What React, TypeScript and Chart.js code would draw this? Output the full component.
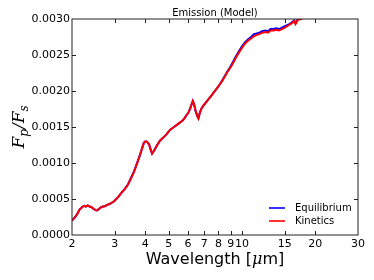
import React, { useEffect, useRef } from 'react';
import { Chart, registerables } from 'chart.js';
Chart.register(...registerables);

const wavelengths = [
  2.0, 2.05, 2.1, 2.15, 2.18, 2.2, 2.25, 2.28, 2.32, 2.36, 2.4, 2.45, 2.5, 2.53, 2.57, 2.62, 2.68, 2.73, 2.78, 2.85, 2.92, 2.97,
  3.0, 3.1, 3.2, 3.3, 3.4, 3.5, 3.6, 3.7, 3.8, 3.88, 3.95, 4.0, 4.05, 4.1, 4.15, 4.2, 4.27, 4.33, 4.4, 4.5, 4.6, 4.7, 4.8, 4.9,
  5.0, 5.1, 5.2, 5.3, 5.4, 5.5, 5.6, 5.7, 5.8, 5.9, 6.0, 6.1, 6.2, 6.28, 6.35, 6.45, 6.55, 6.62, 6.7, 6.8, 6.95, 7.1, 7.3, 7.5,
  7.7, 7.9, 8.1, 8.3, 8.5, 8.7, 8.9, 9.1, 9.4, 9.7, 10.0, 10.3, 10.6, 10.9, 11.2, 11.5, 11.8, 12.1, 12.5, 12.8, 13.1, 13.5,
  13.8, 14.2, 14.6, 15.0, 15.5, 16.0, 16.4, 16.6, 17.0, 17.5, 18.0,
];

const kinetics = [
  0.0002, 0.00024, 0.00029, 0.000355, 0.00037, 0.00039, 0.000405, 0.000395, 0.00041, 0.000395, 0.00039, 0.000365, 0.000345, 0.00034, 0.000355, 0.00038, 0.000395, 0.0004, 0.000415, 0.00043, 0.00045, 0.000465,
  0.00048, 0.00053, 0.00059, 0.00064, 0.0007, 0.00079, 0.00088, 0.00099, 0.0011, 0.0012, 0.00128, 0.0013, 0.0013, 0.00128, 0.00126, 0.0012, 0.00113, 0.00116, 0.0012, 0.00126, 0.00131, 0.00134, 0.00137, 0.0014,
  0.00144, 0.00147, 0.00149, 0.00151, 0.00153, 0.00155, 0.00157, 0.00159, 0.00162, 0.00166, 0.00169, 0.00174, 0.00181, 0.00186, 0.00182, 0.00172, 0.00165, 0.00162, 0.00169, 0.00175, 0.0018, 0.00184, 0.00189, 0.00194,
  0.00199, 0.00204, 0.00209, 0.00214, 0.0022, 0.00226, 0.00231, 0.00236, 0.00245, 0.00253, 0.0026, 0.00266, 0.0027, 0.00273, 0.00276, 0.00278, 0.00279, 0.00281, 0.00282, 0.00281, 0.00284, 0.00284,
  0.00285, 0.00284, 0.00286, 0.00288, 0.00291, 0.00294, 0.00297, 0.00293, 0.00299, 0.003, 0.00302,
];

const equilibrium = [
  0.0002, 0.00024, 0.00029, 0.000355, 0.00037, 0.00039, 0.000405, 0.000395, 0.00041, 0.000395, 0.00039, 0.000365, 0.000345, 0.00034, 0.000355, 0.00038, 0.000395, 0.0004, 0.000415, 0.00043, 0.00045, 0.000465,
  0.00048, 0.00053, 0.00059, 0.00064, 0.000705, 0.000795, 0.000885, 0.000995, 0.001105, 0.0012, 0.00128, 0.0013, 0.0013, 0.00128, 0.00126, 0.0012, 0.00113, 0.00116, 0.0012, 0.00126, 0.00131, 0.00134, 0.00137, 0.0014,
  0.00144, 0.00147, 0.00149, 0.00151, 0.00153, 0.00155, 0.00157, 0.00159, 0.00162, 0.00166, 0.00169, 0.00174, 0.00181, 0.00186, 0.00182, 0.00172, 0.00165, 0.00162, 0.00169, 0.00175, 0.0018, 0.00184, 0.00189, 0.00194,
  0.00199, 0.00204, 0.00209, 0.00215, 0.00221, 0.00227, 0.00232, 0.00238, 0.00247, 0.00255, 0.00262, 0.00268, 0.00272, 0.00275, 0.00279, 0.0028, 0.00281, 0.00283, 0.00284, 0.00283, 0.00286, 0.00286,
  0.00287, 0.00286, 0.00288, 0.0029, 0.00292, 0.00295, 0.00298, 0.00294, 0.003, 0.00301, 0.00303,
];

const xTicks = [2, 3, 4, 5, 6, 7, 8, 9, 10, 15, 20, 30];
const yTicks = [0, 0.0005, 0.001, 0.0015, 0.002, 0.0025, 0.003];
const titleText = 'Emission (Model)';
const seriesNames = ['Equilibrium', 'Kinetics'];
const seriesColors = ['#0000ff', '#ff0000'];

const SANS = '"DejaVu Sans", sans-serif';
const SERIF = '"DejaVu Serif", serif';

const decor = {
  id: 'decor',
  afterDraw(chart: any) {
    const { ctx, chartArea } = chart;
    const { left, right, top, bottom } = chartArea;
    const xs = chart.scales.x;
    const ys = chart.scales.y;
    ctx.save();
    // frame
    ctx.strokeStyle = '#222';
    ctx.lineWidth = 1;
    ctx.strokeRect(left, top, right - left, bottom - top);
    // inward ticks
    ctx.beginPath();
    xTicks.forEach((v) => {
      const p = Math.round(xs.getPixelForValue(v)) + 0.5;
      if (p <= left + 1 || p >= right - 1) return;
      ctx.moveTo(p, bottom);
      ctx.lineTo(p, bottom - 4);
      ctx.moveTo(p, top);
      ctx.lineTo(p, top + 4);
    });
    yTicks.forEach((v) => {
      const p = Math.round(ys.getPixelForValue(v)) + 0.5;
      if (p <= top + 1 || p >= bottom - 1) return;
      ctx.moveTo(left, p);
      ctx.lineTo(left + 4, p);
      ctx.moveTo(right, p);
      ctx.lineTo(right - 4, p);
    });
    ctx.stroke();

    const cx = (left + right) / 2;
    ctx.fillStyle = '#000';
    // title
    ctx.font = `10px ${SANS}`;
    ctx.textAlign = 'center';
    ctx.textBaseline = 'alphabetic';
    ctx.fillText(titleText, cx, 16);

    // x label
    const a = 'Wavelength [';
    const mu = 'μ';
    const b = 'm]';
    ctx.font = `16px ${SANS}`;
    const wa = ctx.measureText(a).width;
    const wb = ctx.measureText(b).width;
    ctx.font = `italic 16px ${SERIF}`;
    const wm = ctx.measureText(mu).width;
    const x0 = cx - (wa + wm + wb) / 2;
    ctx.textAlign = 'left';
    ctx.font = `16px ${SANS}`;
    ctx.fillText(a, x0, 264);
    ctx.font = `italic 16px ${SERIF}`;
    ctx.fillText(mu, x0 + wa, 264);
    ctx.font = `16px ${SANS}`;
    ctx.fillText(b, x0 + wa + wm, 264);

    // y label F_p / F_s
    const big = `italic 17px ${SERIF}`;
    const small = `italic 12px ${SERIF}`;
    const parts: [string, string, number][] = [
      ['F', big, 0],
      ['p', small, 4],
      ['/', big, 0],
      ['F', big, 0],
      ['s', small, 4],
    ];
    let tw = 0;
    const widths = parts.map(([t, f]) => {
      ctx.font = f;
      const w = ctx.measureText(t).width;
      tw += w;
      return w;
    });
    ctx.translate(24, (top + bottom) / 2);
    ctx.rotate(-Math.PI / 2);
    let px = -tw / 2;
    parts.forEach(([t, f, dy], i) => {
      ctx.font = f;
      ctx.fillText(t, px, dy);
      px += widths[i];
    });
    ctx.setTransform(1, 0, 0, 1, 0, 0);

    // legend
    const ly = [208, 221];
    seriesNames.forEach((name, i) => {
      ctx.strokeStyle = seriesColors[i];
      ctx.lineWidth = 1.6;
      ctx.beginPath();
      ctx.moveTo(269, ly[i]);
      ctx.lineTo(285, ly[i]);
      ctx.stroke();
      ctx.fillStyle = '#000';
      ctx.font = `10px ${SANS}`;
      ctx.textAlign = 'left';
      ctx.textBaseline = 'middle';
      ctx.fillText(name, 295, ly[i]);
    });
    ctx.restore();
  },
};

export default function App() {
  const ref = useRef<HTMLCanvasElement | null>(null);
  useEffect(() => {
    if (!ref.current) return;
    const chart = new Chart(ref.current, {
      type: 'line',
      data: {
        datasets: [
          {
            label: seriesNames[0],
            data: wavelengths.map((w, i) => ({ x: w, y: equilibrium[i] })),
            borderColor: seriesColors[0],
            borderWidth: 2,
            order: 1,
          },
          {
            label: seriesNames[1],
            data: wavelengths.map((w, i) => ({ x: w, y: kinetics[i] })),
            borderColor: seriesColors[1],
            borderWidth: 2,
            order: 0,
          },
        ],
      },
      options: {
        responsive: false,
        animation: false,
        layout: { padding: { left: 8, right: 16, top: 19, bottom: 0 } },
        elements: { point: { radius: 0 }, line: { tension: 0 } },
        plugins: {
          legend: { display: false },
          title: { display: false },
          tooltip: { enabled: false },
        },
        scales: {
          x: {
            type: 'logarithmic',
            min: 2,
            max: 30,
            afterBuildTicks: (s: any) => {
              s.ticks = xTicks.map((v) => ({ value: v }));
            },
            afterFit: (s: any) => {
              s.height = 45;
            },
            grid: { display: false, drawTicks: false },
            border: { display: false },
            ticks: {
              autoSkip: false,
              maxRotation: 0,
              padding: 3,
              color: '#000',
              font: { family: SANS, size: 11 },
              callback: (v: any) => String(v),
            },
          },
          y: {
            min: 0,
            max: 0.003,
            afterBuildTicks: (s: any) => {
              s.ticks = yTicks.map((v) => ({ value: v }));
            },
            afterFit: (s: any) => {
              s.width = 64;
            },
            grid: { display: false, drawTicks: false },
            border: { display: false },
            ticks: {
              padding: 2,
              color: '#000',
              font: { family: SANS, size: 11 },
              callback: (v: any) => Number(v).toFixed(4),
            },
          },
        },
      },
      plugins: [decor],
    } as any);
    return () => chart.destroy();
  }, []);
  return (
    <div style={{ position: 'fixed', left: 0, top: 0, width: 374, height: 280 }}>
      <canvas ref={ref} width={374} height={280} />
    </div>
  );
}
